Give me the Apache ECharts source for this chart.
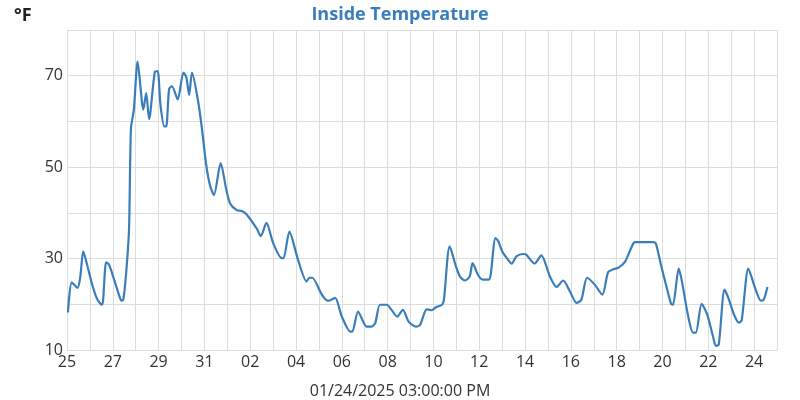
<!DOCTYPE html>
<html>
<head>
<meta charset="utf-8">
<script src="https://cdn.jsdelivr.net/npm/echarts@6/dist/echarts.min.js"></script>
<style>html,body{margin:0;padding:0;background:#fff}#c{width:800px;height:400px}</style>
</head>
<body>
<div id="c"></div>
<script>
// Time of each reading, hours since 2024-12-25 00:00 UTC
const startDate = '2024-12-25T00:00:00Z';
const endDate = '2025-01-25T00:00:00Z';
const hoursSinceStart = [
  1,5,11,14,17,21,26,31,35,37,41,44,50,55,57,59,62,65,67,70,
  74,80,83,86,92,95,98,102,104,107,110,116,122,125,128,131,137,141,146,150,
  154,161,167,171,178,183,188,199,203,209,216,225,227,233,242,251,254,257,267,273,
  276,281,288,297,299,305,314,319,323,328,335,340,346,352,358,366,370,377,382,387,
  393,395,401,408,412,417,422,425,431,436,442,444,449,452,456,462,466,471,478,481,
  490,497,506,513,520,527,534,539,545,553,561,567,573,578,585,592,595,614,617,622,
  629,633,635,641,644,651,656,659,665,671,677,680,683,689,693,699,704,707,714,721,
  727,730,734
];
const temperatureF = [
  18.2,24.8,23.6,26.1,31.6,28.7,24.6,21.4,20.1,19.9,29.2,28.7,25.0,21.7,20.8,21.0,26.9,36.4,58.5,62.4,
  73.1,62.6,66.2,60.5,70.8,71.0,63.5,58.9,58.9,67.1,67.7,64.8,70.7,69.7,65.8,70.7,64.9,59.1,50.3,45.9,
  43.9,50.9,45.0,42.0,40.6,40.4,39.7,36.5,34.9,37.8,33.4,30.1,30.1,35.9,29.8,25.0,25.8,25.8,22.1,20.8,
  20.9,21.4,17.3,14.0,14.0,18.4,15.1,15.1,15.9,19.9,19.9,18.8,17.3,18.8,16.2,15.1,15.5,18.9,18.7,19.4,
  19.9,21.0,32.7,28.0,26.0,25.2,26.1,29.0,26.3,25.4,25.4,26.5,34.5,33.8,31.6,29.8,28.9,30.5,31.0,30.9,
  28.9,30.7,26.1,23.8,25.2,22.8,20.3,21.0,25.8,24.3,22.1,27.0,27.7,28.0,29.4,32.7,33.6,33.6,33.3,29.0,
  23.2,20.1,19.9,27.8,25.4,17.3,13.8,13.8,20.1,17.7,12.9,10.9,11.2,23.2,21.4,17.7,16.0,16.5,27.8,23.6,
  20.8,21.0,23.8
];
const yLabels = [10, 30, 50, 70];
const titleText = 'Inside Temperature';
const unitText = '°F';
const xAxisName = '01/24/2025 03:00:00 PM';

const DAY = 86400000;
const t0 = Date.parse(startDate);
const t1 = Date.parse(endDate);
const seriesData = hoursSinceStart.map((h, i) => [t0 + h * 3600000, temperatureF[i]]);

const chart = echarts.init(document.getElementById('c'));
const font = '"Open Sans", "Noto Sans", sans-serif';
chart.setOption({
  animation: false,
  textStyle: { fontFamily: font },
  title: [
    { text: titleText, left: 'center', top: 1,
      textStyle: { color: '#3a7dbd', fontSize: 18, fontWeight: 'bold', fontFamily: font } },
    { text: unitText, left: 9, top: 2,
      textStyle: { color: '#222', fontSize: 18, fontWeight: 'bold', fontFamily: font } },
    { text: xAxisName, left: 'center', top: 378,
      textStyle: { color: '#333', fontSize: 16, fontWeight: 'normal', fontFamily: font } }
  ],
  grid: { left: 67, right: 23, top: 30, bottom: 50, containLabel: false, outerBoundsMode: 'none' },
  xAxis: {
    type: 'value', min: t0, max: t1, interval: DAY,
    axisLine: { show: true, lineStyle: { color: '#ddd' } },
    axisTick: { show: false },
    splitLine: { show: true, lineStyle: { color: '#ddd', width: 1 } },
    axisLabel: {
      color: '#333', fontSize: 16, margin: 4, fontFamily: font,
      formatter: v => {
        const d = Math.round((v - t0) / DAY);
        if (d % 2 !== 0) return '';
        const day = new Date(v).getUTCDate();
        return (day < 10 ? '0' : '') + day;
      }
    }
  },
  yAxis: {
    type: 'value', min: 10, max: 80, interval: 10,
    axisLine: { show: true, lineStyle: { color: '#ddd' } },
    axisTick: { show: false },
    splitLine: { show: true, lineStyle: { color: '#ddd', width: 1 } },
    axisLabel: {
      color: '#333', fontSize: 16, margin: 4, fontFamily: font,
      formatter: v => yLabels.includes(v) ? String(v) : ''
    }
  },
  series: [{
    type: 'line', data: seriesData, smooth: 0.25, symbol: 'none',
    lineStyle: { color: '#3a7dbb', width: 2.2 }
  }]
});
</script>
</body>
</html>
